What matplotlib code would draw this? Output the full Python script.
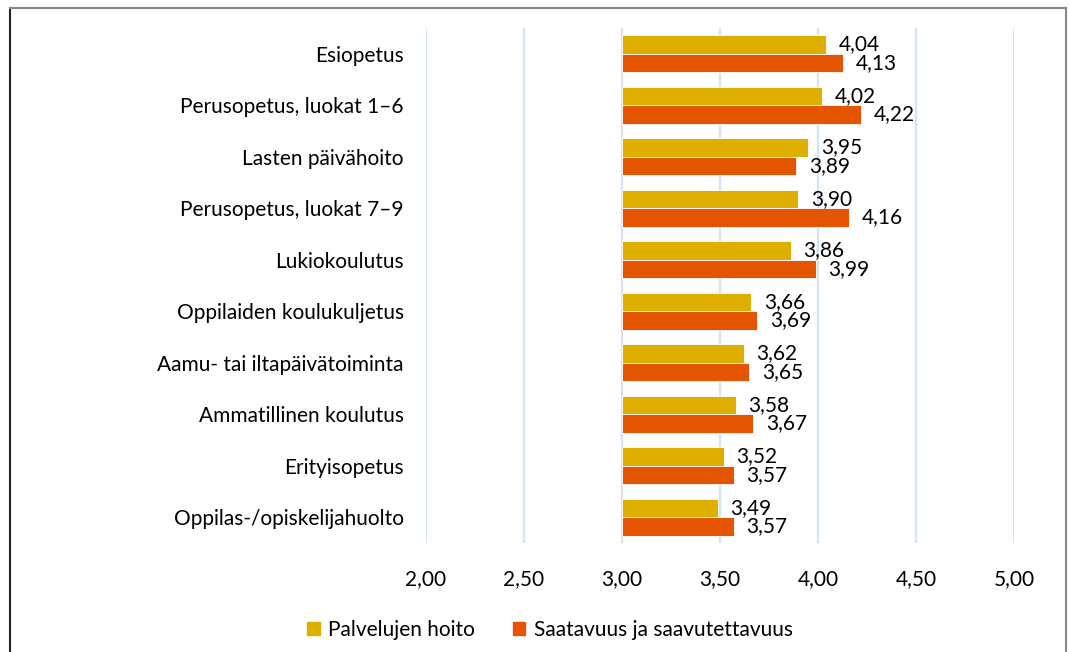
import numpy as np
import matplotlib.pyplot as plt
from matplotlib.lines import Line2D

categories = ['Esiopetus', 'Perusopetus, luokat 1–6', 'Lasten päivähoito',
              'Perusopetus, luokat 7–9', 'Lukiokoulutus', 'Oppilaiden koulukuljetus',
              'Aamu- tai iltapäivätoiminta', 'Ammatillinen koulutus',
              'Erityisopetus', 'Oppilas-/opiskelijahuolto']
hoito = [4.04, 4.02, 3.95, 3.90, 3.86, 3.66, 3.62, 3.58, 3.52, 3.49]
saatavuus = [4.13, 4.22, 3.89, 4.16, 3.99, 3.69, 3.65, 3.67, 3.57, 3.57]
series_names = ['Palvelujen hoito', 'Saatavuus ja saavutettavuus']
xticks = [2.0, 2.5, 3.0, 3.5, 4.0, 4.5, 5.0]
base = 3.0  # vertical axis crosses here

plt.rcParams['font.family'] = ['Lato', 'DejaVu Sans']
c_hoito = '#DEAF00'
c_saat = '#E35500'
fs = 15

fig = plt.figure(figsize=(10.7, 6.52), dpi=100)
ax = fig.add_axes([426/1070, 1-543/652, (1014-426)/1070, (543-28)/652])

y = np.arange(len(categories))
h = 0.36
ax.barh(y - h/2, np.array(hoito) - base, left=base, height=h,
        color=c_hoito, edgecolor='white', linewidth=0.6, zorder=3)
ax.barh(y + h/2, np.array(saatavuus) - base, left=base, height=h,
        color=c_saat, edgecolor='white', linewidth=0.6, zorder=3)

for yy, v in zip(y - h/2, hoito):
    ax.annotate(f'{v:.2f}'.replace('.', ','), (v, yy), xytext=(9, 0),
                textcoords='offset points', va='center', ha='left', fontsize=fs)
for yy, v in zip(y + h/2, saatavuus):
    ax.annotate(f'{v:.2f}'.replace('.', ','), (v, yy), xytext=(9, 0),
                textcoords='offset points', va='center', ha='left', fontsize=fs)

ax.set_xlim(2.0, 5.0)
ax.set_ylim(len(categories) - 0.5, -0.5)
ax.set_xticks(xticks)
ax.set_xticklabels([f'{t:.2f}'.replace('.', ',') for t in xticks], fontsize=fs)
ax.set_yticks(y)
ax.set_yticklabels(categories, fontsize=fs)
ax.tick_params(axis='both', length=0)
ax.tick_params(axis='x', pad=19)
ax.tick_params(axis='y', pad=16)
for s in ax.spines.values():
    s.set_visible(False)
ax.xaxis.grid(True, color='#D6E3F3', linewidth=1.6, zorder=0)
ax.set_axisbelow(True)

handles = [plt.Rectangle((0, 0), 1, 1, color=c_hoito),
           plt.Rectangle((0, 0), 1, 1, color=c_saat)]
fig.legend(handles, series_names, loc='center',
           bbox_to_anchor=(0.5 + 15/1070, 1-630/652),
           ncol=2, frameon=False, fontsize=fs, handlelength=0.6, handleheight=0.6,
           handletextpad=0.4, columnspacing=1.8)

# outer chart border (left, top, right)
fig.add_artist(Line2D([10/1070, 10/1070], [0, 1-8/652], color='#222222', linewidth=1.5))
fig.add_artist(Line2D([10/1070, 1066/1070], [1-8/652, 1-8/652], color='#888888', linewidth=1.5))
fig.add_artist(Line2D([1066/1070, 1066/1070], [0, 1-8/652], color='#888888', linewidth=1.5))

fig.savefig('out.png', dpi=100)
